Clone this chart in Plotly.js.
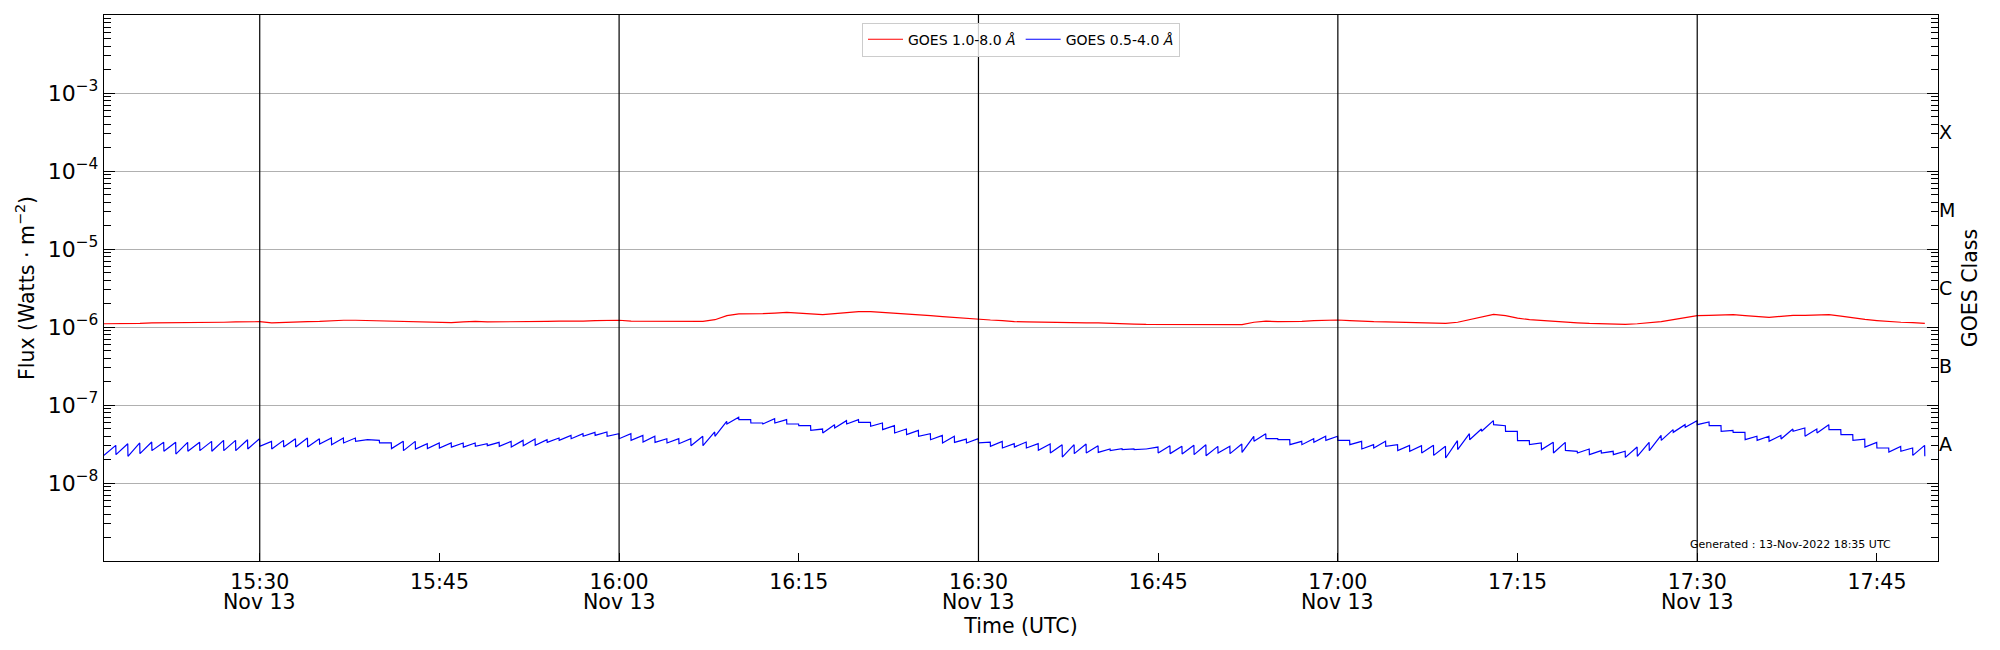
<!DOCTYPE html>
<html>
<head>
<meta charset="utf-8">
<script src="https://cdn.plot.ly/plotly-3.0.1.min.js"></script>
<style>
  body { margin: 0; background: #fff; }
  #chart { width: 2000px; height: 650px; }
</style>
</head>
<body>
<div id="chart"></div>
<script>
// one reading per minute, first one at 15:17 UTC, 13 Nov 2022
const START_TIME = Date.UTC(2022, 10, 13, 15, 17, 0);

// GOES 1.0-8.0 A flux, W/m^2
const xrsLong = [
  1.10e-6, 1.10e-6, 1.11e-6, 1.11e-6, 1.13e-6, 1.13e-6, 1.13e-6, 1.14e-6, 1.14e-6, 1.14e-6,
  1.15e-6, 1.16e-6, 1.16e-6, 1.17e-6, 1.13e-6, 1.15e-6, 1.16e-6, 1.17e-6, 1.18e-6, 1.21e-6,
  1.22e-6, 1.22e-6, 1.21e-6, 1.19e-6, 1.17e-6, 1.16e-6, 1.15e-6, 1.14e-6, 1.13e-6, 1.14e-6,
  1.16e-6, 1.18e-6, 1.16e-6, 1.16e-6, 1.17e-6, 1.17e-6, 1.18e-6, 1.18e-6, 1.19e-6, 1.18e-6,
  1.19e-6, 1.21e-6, 1.22e-6, 1.22e-6, 1.19e-6, 1.19e-6, 1.18e-6, 1.18e-6, 1.17e-6, 1.17e-6,
  1.18e-6, 1.24e-6, 1.40e-6, 1.47e-6, 1.47e-6, 1.48e-6, 1.51e-6, 1.54e-6, 1.51e-6, 1.48e-6,
  1.44e-6, 1.48e-6, 1.54e-6, 1.57e-6, 1.57e-6, 1.54e-6, 1.51e-6, 1.48e-6, 1.45e-6, 1.40e-6,
  1.36e-6, 1.32e-6, 1.29e-6, 1.25e-6, 1.23e-6, 1.21e-6, 1.17e-6, 1.16e-6, 1.15e-6, 1.14e-6,
  1.13e-6, 1.14e-6, 1.13e-6, 1.13e-6, 1.11e-6, 1.10e-6, 1.09e-6, 1.08e-6, 1.08e-6, 1.08e-6,
  1.07e-6, 1.07e-6, 1.06e-6, 1.06e-6, 1.06e-6, 1.07e-6, 1.15e-6, 1.19e-6, 1.17e-6, 1.17e-6,
  1.18e-6, 1.21e-6, 1.23e-6, 1.23e-6, 1.21e-6, 1.18e-6, 1.17e-6, 1.16e-6, 1.15e-6, 1.14e-6,
  1.13e-6, 1.11e-6, 1.11e-6, 1.15e-6, 1.24e-6, 1.34e-6, 1.45e-6, 1.40e-6, 1.30e-6, 1.24e-6,
  1.21e-6, 1.17e-6, 1.14e-6, 1.13e-6, 1.11e-6, 1.10e-6, 1.09e-6, 1.08e-6, 1.10e-6, 1.13e-6,
  1.17e-6, 1.24e-6, 1.32e-6, 1.40e-6, 1.41e-6, 1.41e-6, 1.44e-6, 1.40e-6, 1.36e-6, 1.33e-6,
  1.37e-6, 1.41e-6, 1.41e-6, 1.43e-6, 1.44e-6, 1.38e-6, 1.30e-6, 1.25e-6, 1.21e-6, 1.17e-6,
  1.15e-6, 1.14e-6, 1.11e-6,
];

// GOES 0.5-4.0 A flux at the start of each minute, W/m^2
const xrsShortStart = [
  2.26e-8, 2.31e-8, 2.20e-8, 2.38e-8, 2.60e-8, 2.55e-8, 2.35e-8, 2.55e-8, 2.60e-8, 2.55e-8,
  2.60e-8, 2.60e-8, 2.73e-8, 2.95e-8, 2.73e-8, 2.89e-8, 2.89e-8, 2.89e-8, 3.16e-8, 3.10e-8,
  3.26e-8, 3.42e-8, 3.59e-8, 3.26e-8, 2.76e-8, 2.60e-8, 2.73e-8, 2.76e-8, 2.81e-8, 2.89e-8,
  2.89e-8, 2.95e-8, 3.01e-8, 2.95e-8, 2.89e-8, 3.01e-8, 3.04e-8, 3.32e-8, 3.52e-8, 3.70e-8,
  3.97e-8, 4.08e-8, 3.97e-8, 3.70e-8, 3.52e-8, 3.35e-8, 3.32e-8, 3.26e-8, 3.19e-8, 3.01e-8,
  3.01e-8, 3.97e-8, 5.71e-8, 6.49e-8, 5.88e-8, 5.71e-8, 5.88e-8, 5.71e-8, 5.43e-8, 4.73e-8,
  4.38e-8, 5.07e-8, 5.71e-8, 6.00e-8, 5.33e-8, 4.83e-8, 4.38e-8, 4.17e-8, 3.97e-8, 3.59e-8,
  3.26e-8, 3.32e-8, 3.26e-8, 3.26e-8, 2.95e-8, 2.81e-8, 2.89e-8, 2.81e-8, 2.62e-8, 2.42e-8,
  2.15e-8, 2.38e-8, 2.42e-8, 2.47e-8, 2.60e-8, 2.68e-8, 2.68e-8, 2.73e-8, 2.42e-8, 2.38e-8,
  2.35e-8, 2.31e-8, 2.24e-8, 2.42e-8, 2.38e-8, 2.47e-8, 3.42e-8, 3.70e-8, 3.59e-8, 3.10e-8,
  3.10e-8, 3.32e-8, 3.52e-8, 3.52e-8, 3.10e-8, 2.73e-8, 2.81e-8, 2.95e-8, 2.60e-8, 2.55e-8,
  2.42e-8, 2.26e-8, 2.09e-8, 2.68e-8, 3.59e-8, 4.60e-8, 5.60e-8, 4.60e-8, 3.49e-8, 3.10e-8,
  2.68e-8, 2.42e-8, 2.62e-8, 2.42e-8, 2.31e-8, 2.42e-8, 2.31e-8, 2.13e-8, 2.20e-8, 2.60e-8,
  3.52e-8, 4.46e-8, 5.17e-8, 5.60e-8, 5.43e-8, 4.60e-8, 4.46e-8, 3.59e-8, 3.52e-8, 3.42e-8,
  3.66e-8, 4.60e-8, 3.97e-8, 4.38e-8, 4.83e-8, 4.17e-8, 3.52e-8, 2.89e-8, 2.81e-8, 2.50e-8,
  2.55e-8, 2.26e-8, 2.20e-8,
];

// GOES 0.5-4.0 A flux at the end of each minute, W/m^2
const xrsShortEnd = [
  3.04e-8, 3.19e-8, 3.26e-8, 3.35e-8, 3.32e-8, 3.32e-8, 3.32e-8, 3.32e-8, 3.42e-8, 3.52e-8,
  3.52e-8, 3.59e-8, 3.70e-8, 3.42e-8, 3.52e-8, 3.70e-8, 3.77e-8, 3.70e-8, 3.77e-8, 3.77e-8,
  3.77e-8, 3.59e-8, 3.52e-8, 3.26e-8, 3.42e-8, 3.42e-8, 3.19e-8, 3.26e-8, 3.26e-8, 3.26e-8,
  3.26e-8, 3.19e-8, 3.32e-8, 3.42e-8, 3.52e-8, 3.66e-8, 3.59e-8, 3.77e-8, 4.08e-8, 4.29e-8,
  4.46e-8, 4.51e-8, 4.29e-8, 4.29e-8, 4.08e-8, 3.97e-8, 3.70e-8, 3.70e-8, 3.70e-8, 3.97e-8,
  4.51e-8, 6.17e-8, 6.95e-8, 6.49e-8, 5.88e-8, 6.68e-8, 6.49e-8, 5.71e-8, 5.43e-8, 4.92e-8,
  5.60e-8, 6.30e-8, 6.49e-8, 6.00e-8, 5.88e-8, 5.43e-8, 4.92e-8, 4.73e-8, 4.29e-8, 4.08e-8,
  3.97e-8, 3.66e-8, 3.70e-8, 3.35e-8, 3.42e-8, 3.19e-8, 3.35e-8, 3.19e-8, 3.16e-8, 3.10e-8,
  3.10e-8, 3.16e-8, 3.01e-8, 2.73e-8, 2.76e-8, 2.73e-8, 2.73e-8, 2.89e-8, 3.01e-8, 2.95e-8,
  3.04e-8, 3.10e-8, 2.95e-8, 2.95e-8, 3.16e-8, 3.97e-8, 4.29e-8, 3.70e-8, 3.59e-8, 3.42e-8,
  3.70e-8, 3.97e-8, 3.97e-8, 3.52e-8, 3.42e-8, 3.10e-8, 3.42e-8, 3.10e-8, 3.04e-8, 3.01e-8,
  3.04e-8, 2.95e-8, 3.49e-8, 4.29e-8, 4.92e-8, 6.30e-8, 5.43e-8, 4.60e-8, 3.49e-8, 3.26e-8,
  3.32e-8, 3.32e-8, 2.55e-8, 2.73e-8, 2.60e-8, 2.55e-8, 2.55e-8, 2.89e-8, 3.32e-8, 4.08e-8,
  4.83e-8, 5.60e-8, 6.30e-8, 6.05e-8, 5.43e-8, 4.73e-8, 4.46e-8, 3.97e-8, 3.97e-8, 4.08e-8,
  4.92e-8, 5.07e-8, 4.92e-8, 5.60e-8, 4.83e-8, 4.17e-8, 3.66e-8, 3.32e-8, 2.81e-8, 2.95e-8,
  2.81e-8, 3.04e-8,
];

const X_RANGE = ['2022-11-13 15:17:00', '2022-11-13 17:50:06'];
const timeTicks = [
  '2022-11-13 15:30', '2022-11-13 15:45', '2022-11-13 16:00', '2022-11-13 16:15',
  '2022-11-13 16:30', '2022-11-13 16:45', '2022-11-13 17:00', '2022-11-13 17:15',
  '2022-11-13 17:30', '2022-11-13 17:45',
];
const timeTickLabels = [
  '15:30', '15:45', '16:00', '16:15', '16:30',
  '16:45', '17:00', '17:15', '17:30', '17:45',
];
// black vertical lines, each also gets the date under its time label
const halfHourLines = [
  '2022-11-13 15:30', '2022-11-13 16:00', '2022-11-13 16:30',
  '2022-11-13 17:00', '2022-11-13 17:30',
];
const DATE_LABEL = 'Nov 13';

const fluxTicks = [1e-8, 1e-7, 1e-6, 1e-5, 1e-4, 1e-3];
const fluxTickLabels = [
  '10<sup>−8</sup>', '10<sup>−7</sup>', '10<sup>−6</sup>',
  '10<sup>−5</sup>', '10<sup>−4</sup>', '10<sup>−3</sup>',
];
const goesClasses = ['A', 'B', 'C', 'M', 'X'];
const goesClassLevels = [1e-8, 1e-7, 1e-6, 1e-5, 1e-4];

const FONT = 'DejaVu Sans, sans-serif';

function timeAt(minute, second) {
  const d = new Date(START_TIME + (minute * 60 + second) * 1000);
  return d.toISOString().replace('T', ' ').slice(0, 19);
}

function longTrace() {
  return {
    x: xrsLong.map((v, i) => timeAt(i, 0)),
    y: xrsLong,
    type: 'scatter',
    mode: 'lines',
    name: 'GOES 1.0-8.0 <i>Å</i>',
    line: { color: 'red', width: 1.2 },
  };
}

function shortTrace() {
  const x = [];
  const y = [];
  xrsShortStart.forEach((v, i) => {
    x.push(timeAt(i, 0));
    y.push(v);
    if (i < xrsShortEnd.length) {
      x.push(timeAt(i, 59));
      y.push(xrsShortEnd[i]);
    }
  });
  return {
    x: x,
    y: y,
    type: 'scatter',
    mode: 'lines',
    name: 'GOES 0.5-4.0 <i>Å</i>',
    line: { color: 'blue', width: 1.2 },
  };
}

// 2..9 x 10^n between the decades
function minorFluxTicks() {
  const vals = [];
  for (let p = -9; p < -2; p++) {
    for (let k = 2; k < 10; k++) {
      vals.push(k * Math.pow(10, p));
    }
  }
  return vals;
}

function emptyTrace(axis) {
  return { x: [], y: [], yaxis: axis, type: 'scatter', mode: 'lines', showlegend: false, hoverinfo: 'skip' };
}

const traces = [longTrace(), shortTrace(), emptyTrace('y2'), emptyTrace('y3')];

const dateAnnotations = halfHourLines.map((t) => ({
  text: DATE_LABEL,
  xref: 'x',
  yref: 'paper',
  x: t,
  y: 0,
  xanchor: 'center',
  yanchor: 'top',
  yshift: -28,
  borderpad: 0,
  showarrow: false,
  font: { family: FONT, size: 20.5 },
}));

const layout = {
  width: 2000,
  height: 650,
  margin: { l: 104, r: 62, t: 15, b: 89 },
  paper_bgcolor: '#ffffff',
  plot_bgcolor: '#ffffff',
  font: { family: FONT, color: '#000000', size: 20.5 },
  showlegend: true,
  legend: {
    orientation: 'h',
    x: 0.5,
    xanchor: 'center',
    y: 0.986,
    yanchor: 'top',
    itemwidth: 35,
    bgcolor: 'rgba(255,255,255,0.8)',
    bordercolor: '#cccccc',
    borderwidth: 1,
    font: { family: FONT, size: 14 },
  },
  xaxis: {
    type: 'date',
    range: X_RANGE,
    tickmode: 'array',
    tickvals: timeTicks,
    ticktext: timeTickLabels,
    ticks: 'inside',
    ticklen: 8,
    tickwidth: 1,
    tickcolor: '#000000',
    ticklabelstandoff: 2,
    tickfont: { family: FONT, size: 20.5 },
    showline: true,
    linecolor: '#000000',
    linewidth: 1.2,
    mirror: true,
    showgrid: false,
    zeroline: false,
    automargin: false,
    title: { text: 'Time (UTC)', font: { family: FONT, size: 20.5 }, standoff: 25 },
  },
  yaxis: {
    type: 'log',
    range: [-9, -2],
    tickmode: 'array',
    tickvals: fluxTicks,
    ticktext: fluxTickLabels,
    ticks: 'inside',
    ticklen: 11,
    tickwidth: 1,
    tickcolor: '#000000',
    tickfont: { family: FONT, size: 22 },
    showline: true,
    linecolor: '#000000',
    linewidth: 1.2,
    mirror: 'ticks',
    showgrid: true,
    gridcolor: '#b0b0b0',
    gridwidth: 1,
    zeroline: false,
    automargin: false,
    title: { text: 'Flux (Watts · m<sup>−2</sup>)', font: { family: FONT, size: 20.5 }, standoff: 7 },
  },
  yaxis2: {
    type: 'log',
    overlaying: 'y',
    side: 'right',
    range: [-9, -2],
    tickmode: 'array',
    // class letter sits in the middle of its decade
    tickvals: goesClassLevels.map((v) => v * Math.sqrt(10)),
    ticktext: goesClasses,
    ticks: '',
    tickfont: { family: FONT, size: 19 },
    showline: false,
    showgrid: false,
    zeroline: false,
    automargin: false,
    title: { text: 'GOES Class', font: { family: FONT, size: 20.5 }, standoff: 8 },
  },
  // minor ticks, inside on both spines
  yaxis3: {
    type: 'log',
    overlaying: 'y',
    side: 'left',
    range: [-9, -2],
    tickmode: 'array',
    tickvals: minorFluxTicks(),
    showticklabels: false,
    ticks: 'inside',
    ticklen: 7,
    tickwidth: 1,
    tickcolor: '#000000',
    mirror: 'ticks',
    showline: false,
    showgrid: false,
    zeroline: false,
    automargin: false,
  },
  shapes: halfHourLines.map((t) => ({
    type: 'line',
    xref: 'x',
    yref: 'paper',
    x0: t,
    x1: t,
    y0: 0,
    y1: 1,
    layer: 'above',
    line: { color: '#000000', width: 1.2 },
  })),
  annotations: dateAnnotations.concat([
    {
      text: 'Generated : 13-Nov-2022 18:35 UTC',
      xref: 'paper',
      yref: 'paper',
      x: 0.9195,
      y: 0.031,
      xanchor: 'center',
      yanchor: 'middle',
      showarrow: false,
      font: { family: FONT, size: 11 },
    },
  ]),
};

Plotly.newPlot('chart', traces, layout, { displayModeBar: false, staticPlot: true });
</script>
</body>
</html>
